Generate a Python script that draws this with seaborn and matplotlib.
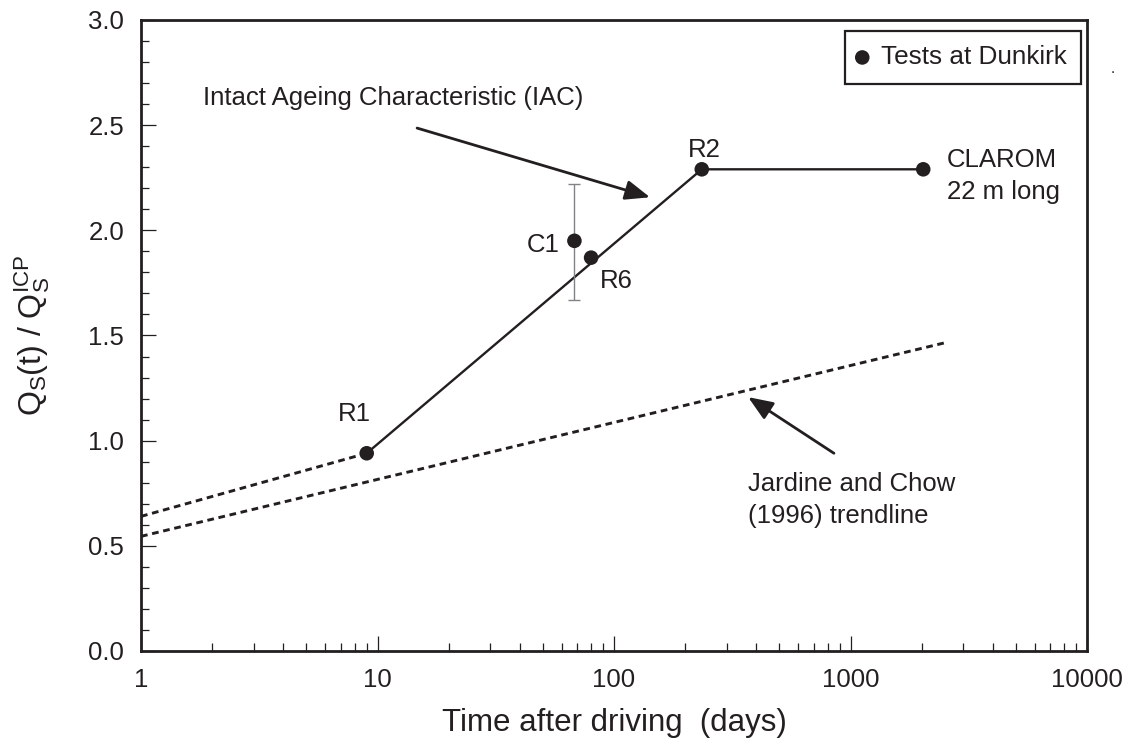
import matplotlib
matplotlib.use("Agg")
import matplotlib.pyplot as plt
import seaborn as sns
import pandas as pd
from matplotlib.ticker import FixedLocator, FixedFormatter, LogLocator, NullFormatter, MultipleLocator

# ---- data ----
test_labels = ["R1", "C1", "R6", "R2", "CLAROM"]
test_days = [9, 68, 80, 235, 2030]
test_ratio = [0.94, 1.95, 1.87, 2.29, 2.29]
c1_range = [1.67, 2.22]

iac_days = [9, 235, 2030]
iac_ratio = [0.94, 2.29, 2.29]

iac_back_days = [1, 9]
iac_back_ratio = [0.64, 0.94]

jc_days = [1, 2500]
jc_ratio = [0.545, 1.465]

x_ticks = [1, 10, 100, 1000, 10000]
x_ticklabels = ["1", "10", "100", "1000", "10000"]
y_ticks = [0.0, 0.5, 1.0, 1.5, 2.0, 2.5, 3.0]
y_ticklabels = ["0.0", "0.5", "1.0", "1.5", "2.0", "2.5", "3.0"]

INK = "#231f20"

sns.set_theme(style="white")
plt.rcParams["font.family"] = ["Liberation Sans", "DejaVu Sans"]
plt.rcParams["mathtext.fontset"] = "custom"
plt.rcParams["mathtext.rm"] = "Liberation Sans"
plt.rcParams["mathtext.it"] = "Liberation Sans"
plt.rcParams["text.color"] = INK

fig = plt.figure(figsize=(11.31, 7.45), dpi=100)
ax = fig.add_axes([0.1247, 0.1262, 0.8364, 0.8470])

tests = pd.DataFrame({"label": test_labels, "days": test_days, "ratio": test_ratio})
iac = pd.DataFrame({"days": iac_days, "ratio": iac_ratio})
back = pd.DataFrame({"days": iac_back_days, "ratio": iac_back_ratio})
jc = pd.DataFrame({"days": jc_days, "ratio": jc_ratio})

dash = (0, (2.3, 1.6))
sns.lineplot(data=jc, x="days", y="ratio", ax=ax, color=INK, lw=2.1,
             linestyle=dash, estimator=None, sort=False)
sns.lineplot(data=back, x="days", y="ratio", ax=ax, color=INK, lw=2.1,
             linestyle=dash, estimator=None, sort=False)
sns.lineplot(data=iac, x="days", y="ratio", ax=ax, color=INK, lw=1.7,
             estimator=None, sort=False)

# range of C1 measurement
c1 = test_labels.index("C1")
ax.errorbar([test_days[c1]], [test_ratio[c1]],
            yerr=[[test_ratio[c1] - c1_range[0]], [c1_range[1] - test_ratio[c1]]],
            fmt="none", ecolor="#808285", elinewidth=1.0, capsize=4.3, capthick=1.0, zorder=2)

sns.scatterplot(data=tests, x="days", y="ratio", ax=ax, color=INK, s=110,
                edgecolor="none", zorder=5, label="Tests at Dunkirk")

ax.set_xscale("log")
ax.set_xlim(1, 10000)
ax.set_ylim(0, 3.0)

ax.xaxis.set_major_locator(FixedLocator(x_ticks))
ax.xaxis.set_major_formatter(FixedFormatter(x_ticklabels))
ax.xaxis.set_minor_locator(LogLocator(base=10, subs=range(2, 10)))
ax.xaxis.set_minor_formatter(NullFormatter())
ax.yaxis.set_major_locator(FixedLocator(y_ticks))
ax.yaxis.set_major_formatter(FixedFormatter(y_ticklabels))
ax.yaxis.set_minor_locator(MultipleLocator(0.1))

ax.tick_params(which="both", direction="in", top=False, right=False,
               colors=INK, labelcolor=INK, bottom=True, left=True)
ax.tick_params(which="major", length=11, width=0.9, labelsize=18.5, pad=12)
ax.tick_params(which="minor", length=6, width=0.9)

for sp in ax.spines.values():
    sp.set_visible(True)
    sp.set_color(INK)
    sp.set_linewidth(2.0)

ax.set_xlabel("Time after driving  (days)", fontsize=22.5, labelpad=12, color=INK)
ax.set_ylabel(r"$\mathregular{Q_S(t)\ /\ Q_S^{ICP}}$", fontsize=23, labelpad=26, color=INK)

# point labels
fs = 18.5
ax.text(6.8, 1.094, "R1", fontsize=fs, va="baseline")
ax.text(42.9, 1.897, "C1", fontsize=fs, va="baseline")
ax.text(87.3, 1.726, "R6", fontsize=fs, va="baseline")
ax.text(205, 2.35, "R2", fontsize=fs, va="baseline")
ax.text(2560, 2.30, "CLAROM", fontsize=fs, va="baseline")
ax.text(2560, 2.148, "22 m long", fontsize=fs, va="baseline")

arrow_style = "-|>,head_length=0.5,head_width=0.2"
ax.text(1.83, 2.597, "Intact Ageing Characteristic (IAC)", fontsize=fs, va="baseline")
ax.annotate("", xy=(142, 2.157), xytext=(14.7, 2.486),
            arrowprops=dict(arrowstyle=arrow_style, color=INK, lw=2.0, mutation_scale=30,
                            shrinkA=0, shrinkB=0))

ax.text(370, 0.762, "Jardine and Chow", fontsize=fs, va="baseline")
ax.text(370, 0.61, "(1996) trendline", fontsize=fs, va="baseline")
ax.annotate("", xy=(369, 1.207), xytext=(851, 0.94),
            arrowprops=dict(arrowstyle=arrow_style, color=INK, lw=2.0, mutation_scale=30,
                            shrinkA=0, shrinkB=0))

leg = ax.legend(loc="upper right", bbox_to_anchor=(0.9937, 0.9826), borderaxespad=0,
                fontsize=18.8, frameon=True, fancybox=False, handlelength=0.19,
                handletextpad=0.62, borderpad=0.55, markerscale=1.0)
leg.get_frame().set_edgecolor(INK)
leg.get_frame().set_linewidth(1.6)
leg.get_frame().set_alpha(1)
for t in leg.get_texts():
    t.set_color(INK)

fig.text(0.982, 0.902, ".", fontsize=11, color=INK)

fig.savefig("out.png", dpi=100, facecolor="white")
